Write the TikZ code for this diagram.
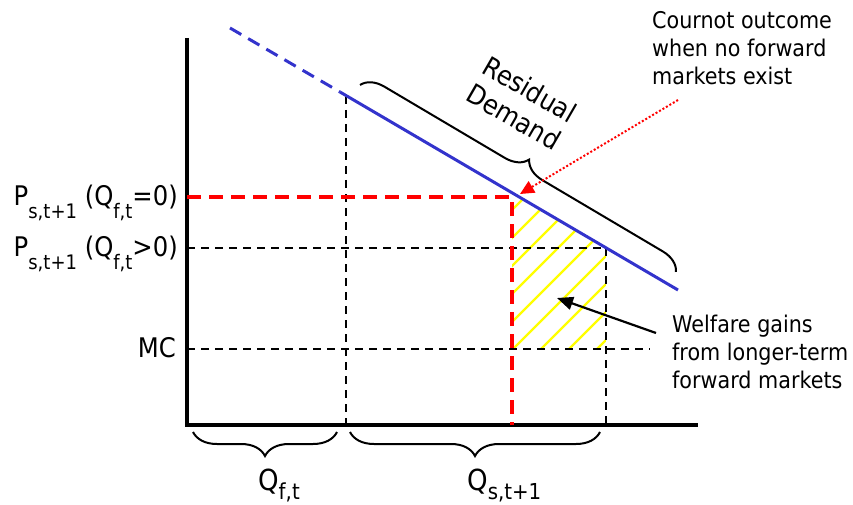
\documentclass[tikz,border=0pt]{standalone}
\usepackage{fontspec}
\setmainfont{DejaVu Sans}[FakeStretch=0.9]
\usepackage{tikz}
\usetikzlibrary{arrows.meta,positioning,calc,decorations.pathreplacing}
\definecolor{demand}{HTML}{3333CC}
\definecolor{cournot}{HTML}{FF0000}
\definecolor{gain}{HTML}{FFFF00}
\newcommand\psub[1]{\raisebox{-13pt}{\fontsize{20}{20}\selectfont #1}}
\newcommand\qsub[1]{\raisebox{-9pt}{\fontsize{22}{22}\selectfont #1}}

\begin{document}
\begin{tikzpicture}[x=1pt,y=-1pt,>=Stealth,
  txt/.style={font=\fontsize{23}{28}\selectfont, inner sep=0pt},
  axis/.style={line width=3.5pt},
  guide/.style={line width=2.8pt, dash pattern=on 8pt off 6pt},
  cournotline/.style={draw=cournot, line width=3.8pt, dash pattern=on 14pt off 8pt},
  demandline/.style={draw=demand, line width=3pt},
  hatchline/.style={draw=gain, line width=2.2pt},
  curly/.style={line width=2pt, decorate, decoration={brace, amplitude=#1}}]
  \useasboundingbox (0,0) rectangle (853,505);
  % key points
  \coordinate (O) at (187,425);
  \coordinate (ytop) at (187,38);
  \coordinate (xend) at (698,425);
  \coordinate (d0) at (230,28);
  \coordinate (d1) at (340,92);
  \coordinate (d2) at (678,290);
  \coordinate (qf) at (346,96);
  \coordinate (cn) at (512,197);
  \coordinate (cndem) at (512,193);
  \coordinate (fw) at (606,248);
  \coordinate (mc) at (650,349);
  % welfare gain area
  \begin{scope}
    \clip (cndem) -- (fw) -- (fw |- mc) -- (cn |- mc) -- cycle;
    \foreach \c in {722,750,...,946}
      \draw[hatchline] (480,{\c-480}) -- (640,{\c-640});
  \end{scope}
  \draw[axis] (ytop) -- (O) -- (xend);
  \draw[guide] (qf) -- (qf |- O);
  \draw[guide] (ytop |- fw) -- (fw);
  \draw[guide, line width=2.2pt] (fw) -- (fw |- O);
  \draw[guide] (ytop |- mc) -- (mc);
  \draw[cournotline] (ytop |- cn) -- (cn) -- (cn |- O);
  \draw[demandline, dash pattern=on 13pt off 8pt] (d0) -- (d1);
  \draw[demandline] (d1) -- (d2);
  % braces
  \coordinate (rd1) at (360,85);
  \coordinate (rd2) at (676,272);
  \draw[curly=22pt] (rd1) -- (rd2);
  \draw[curly=24pt] (337,432) -- (193,432);
  \draw[curly=24pt] (600,432) -- (350,432);
  \node[txt, font=\fontsize{27}{32}\selectfont, rotate=-30, align=center] (resid) at (522,103) {Residual\\Demand};
  % axis labels
  \node[txt, font=\fontsize{27}{30}\selectfont, anchor=base east] (pzero) at (178,205) {P\psub{s,t+1} (Q\psub{f,t}=0)};
  \node[txt, font=\fontsize{27}{30}\selectfont, anchor=base east] (ppos) at (178,256) {P\psub{s,t+1} (Q\psub{f,t}>0)};
  \node[txt, font=\fontsize{27}{30}\selectfont, anchor=base east] (mclbl) at (176,357) {MC};
  \node[txt, font=\fontsize{29}{30}\selectfont, anchor=base west] (qflbl) at (258,490) {Q\qsub{f,t}};
  \node[txt, font=\fontsize{29}{30}\selectfont, anchor=base west] (qslbl) at (467,490) {Q\qsub{s,t+1}};
  % annotations
  \node[txt, anchor=north west, align=left] (cournotlbl) at (652,11) {Cournot outcome\\when no forward\\markets exist};
  \node[txt, anchor=north west, align=left] (welfare) at (672,315) {Welfare gains\\from longer-term\\forward markets};
  \coordinate (cnfrom) at (678,100);
  \coordinate (cnto) at (520,194);
  \draw[cournot, line width=2pt, dash pattern=on 2pt off 2pt,
        -{Triangle[length=14pt, width=13pt]}] (cnfrom) -- (cnto);
  \coordinate (wfrom) at (656,333);
  \coordinate (wto) at (557,298);
  \draw[line width=2.2pt, -{Triangle[length=16pt, width=13pt]}] (wfrom) -- (wto);
\end{tikzpicture}
\end{document}
